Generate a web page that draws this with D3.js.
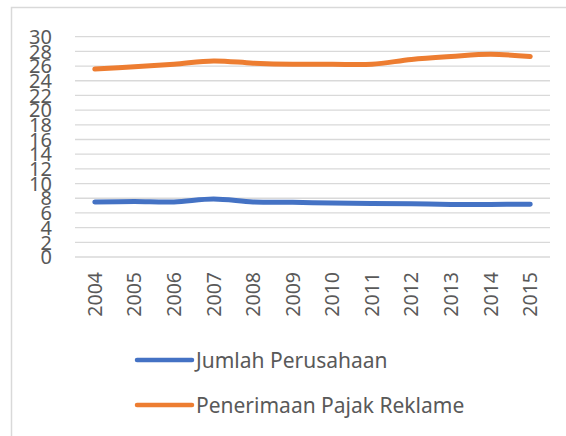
<!DOCTYPE html>
<html>
<head>
<meta charset="utf-8">
<script src="https://cdn.jsdelivr.net/npm/d3@7"></script>
<style>
  body { margin: 0; background: #fff; }
  text { font-family: "Noto Sans", "Open Sans", sans-serif; fill: #595959; }
</style>
</head>
<body>
<div id="chart"></div>
<script>
// values
const years = ['2004', '2005', '2006', '2007', '2008', '2009', '2010', '2011', '2012', '2013', '2014', '2015'];
const jumlahPerusahaan = [7.5, 7.55, 7.5, 7.9, 7.5, 7.45, 7.35, 7.3, 7.25, 7.15, 7.15, 7.2];
const pajakReklame = [25.6, 25.9, 26.25, 26.7, 26.4, 26.25, 26.25, 26.25, 26.9, 27.3, 27.6, 27.3];
const yTicks = d3.range(0, 31, 2);
const seriesNames = ['Jumlah Perusahaan', 'Penerimaan Pajak Reklame'];
const seriesColors = ['#4472C4', '#ED7D31'];

function init() {
    const width = 566, height = 436;
    const plot = { left: 75, right: 550, top: 36.7, bottom: 257 };

    const svg = d3.select('#chart').append('svg')
        .attr('width', width)
        .attr('height', height);

    // chart frame (only top / left edges are visible in the picture)
    svg.append('rect')
        .attr('x', 11.5).attr('y', 7.5)
        .attr('width', width + 10).attr('height', height + 10)
        .attr('fill', 'none')
        .attr('stroke', '#d9d9d9')
        .attr('stroke-width', 1.5);

    const x = d3.scaleBand().domain(years).range([plot.left, plot.right]);
    const y = d3.scaleLinear().domain([0, 30]).range([plot.bottom, plot.top]);

    // gridlines
    svg.append('g').selectAll('line')
        .data(yTicks)
        .enter().append('line')
        .attr('x1', plot.left).attr('x2', plot.right)
        .attr('y1', d => y(d)).attr('y2', d => y(d))
        .attr('stroke', '#d9d9d9')
        .attr('stroke-width', 1.3);

    // y tick labels (they overlap, like the original)
    svg.append('g').selectAll('text')
        .data(yTicks)
        .enter().append('text')
        .attr('x', 52)
        .attr('y', d => y(d))
        .attr('dy', '0.36em')
        .attr('text-anchor', 'end')
        .style('font-size', '20px')
        .text(d => d);

    // x tick labels, rotated
    svg.append('g').selectAll('text')
        .data(years)
        .enter().append('text')
        .attr('transform', d => `translate(${x(d) + x.bandwidth() / 2},272) rotate(-90)`)
        .attr('dy', '0.36em')
        .attr('text-anchor', 'end')
        .style('font-size', '19.5px')
        .text(d => d);

    const line = d3.line()
        .x((d, i) => x(years[i]) + x.bandwidth() / 2)
        .y(d => y(d))
        .curve(d3.curveCatmullRom.alpha(0.5));

    [jumlahPerusahaan, pajakReklame].forEach((vals, i) => {
        svg.append('path')
            .datum(vals)
            .attr('d', line)
            .attr('fill', 'none')
            .attr('stroke', seriesColors[i])
            .attr('stroke-width', 5)
            .attr('stroke-linecap', 'round')
            .attr('stroke-linejoin', 'round');
    });

    // legend
    const legend = svg.append('g').selectAll('g')
        .data(seriesNames)
        .enter().append('g')
        .attr('transform', (d, i) => `translate(137,${360 + i * 45})`);

    legend.append('line')
        .attr('x1', 0).attr('x2', 55)
        .attr('stroke', (d, i) => seriesColors[i])
        .attr('stroke-width', 4.5)
        .attr('stroke-linecap', 'round');

    legend.append('text')
        .attr('x', 59)
        .attr('dy', '0.36em')
        .style('font-size', '21px')
        .text(d => d);
}

window.onload = init;
</script>
</body>
</html>
